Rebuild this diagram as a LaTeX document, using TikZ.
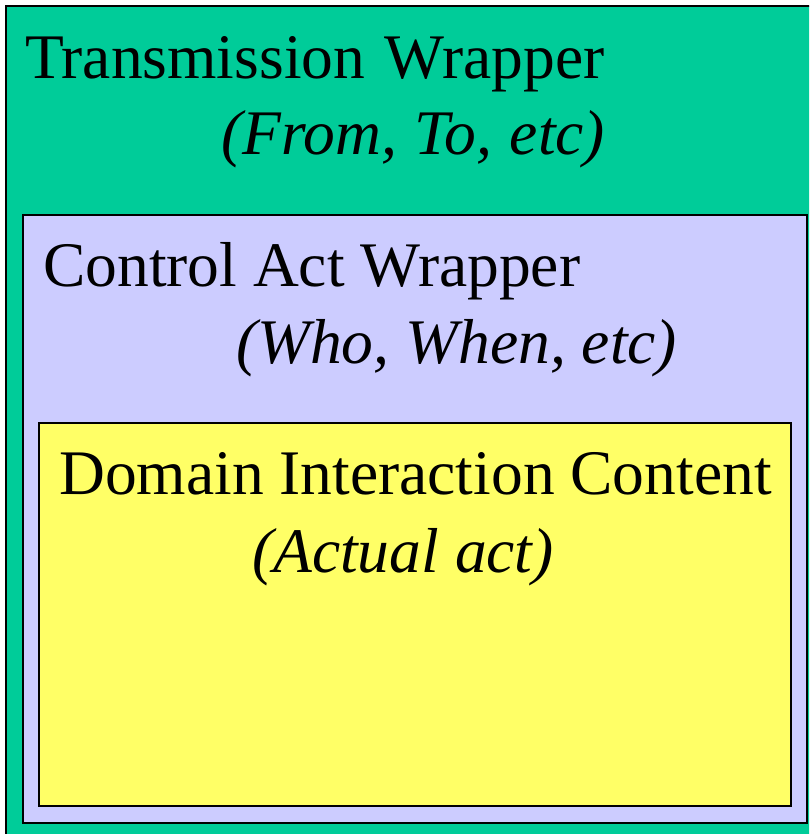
\documentclass[tikz,border=0pt]{standalone}
\usepackage{fontspec}
\setmainfont{Liberation Serif}
\definecolor{tgreen}{HTML}{00CC99}
\definecolor{cpurple}{HTML}{CCCCFF}
\definecolor{dyellow}{HTML}{FFFF66}
\begin{document}
\begin{tikzpicture}[x=1pt,y=-1pt,
  box/.style={draw=black, line width=2pt},
  txt/.style={inner sep=0pt, anchor=base west, font=\fontsize{63.5}{76}\selectfont},
  itxt/.style={txt, font=\fontsize{63.5}{76}\selectfont\itshape}]
\useasboundingbox (0,0) rectangle (809,834);
\begin{scope}
\clip (0,0) rectangle (809,834);
\draw[box, fill=tgreen] (6,6) rectangle (840,860);
\draw[box, fill=cpurple] (23,215) rectangle (807,823);
\draw[box, fill=dyellow] (39,423) rectangle (791,806);
\end{scope}
\node[txt] (tw) at (25,79) {Transmission\hspace{4pt} Wrapper};
\node[itxt] (twi) at (221,155) {(From,\hspace{2pt} To,\hspace{2pt} etc)};
\node[txt] (cw) at (43,286) {Control Act Wrapper};
\node[itxt] (cwi) at (236,363) {(Who, When, etc)};
\node[txt] (dc) at (59,494) {Domain Interaction Content};
\node[itxt] (dci) at (252,572) {(Actual act)};
\end{tikzpicture}
\end{document}
